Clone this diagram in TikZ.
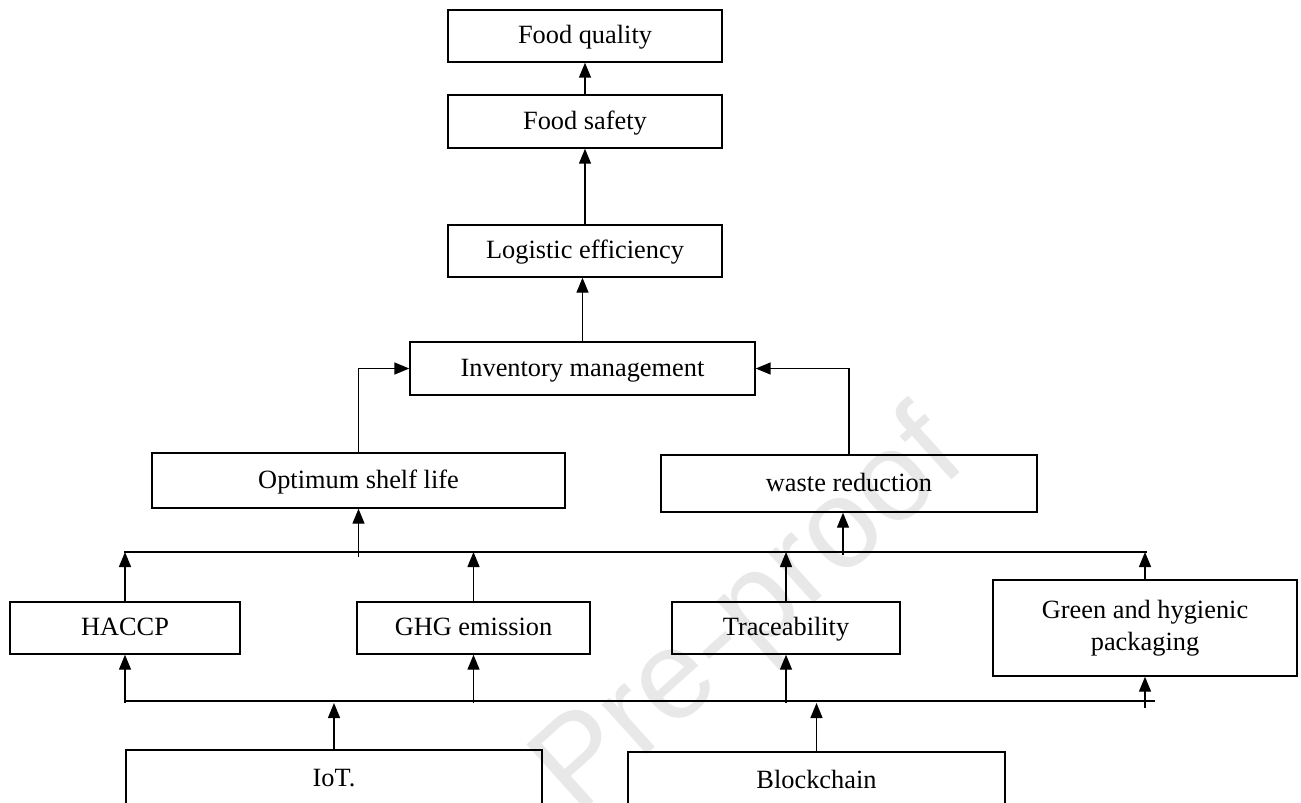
\documentclass[tikz,border=0pt]{standalone}
\usepackage{fontspec}
\setmainfont{Liberation Serif}
\newfontfamily\wmfont{Liberation Sans}
\usepackage{tikz}
\usetikzlibrary{arrows.meta}

\begin{document}
\begin{tikzpicture}[x=0.02cm, y=-0.02cm,
    box/.style={draw, line width=0.8pt, inner sep=2pt, align=center,
        font=\fontsize{15}{18}\selectfont},
    cell/.style={box, text height=1.1em, text depth=0.24em},
    up/.style={-{Triangle[width=0.24cm,length=0.3cm]}, line width=0.8pt}]
\clip (0,0) rectangle (1301,802);
% Watermark
\node[rotate=42, text=black!9, font=\wmfont\fontsize{72}{72}\selectfont] (wmark) at (752,616) {Pre-proof};
% Chain at the top
\node[cell, minimum width=5.48cm, minimum height=1.04cm] (quality) at (585,36) {Food quality};
\node[cell, minimum width=5.48cm, minimum height=1.06cm] (safety) at (585,121.5) {Food safety};
\node[cell, minimum width=5.48cm, minimum height=1.04cm] (logistic) at (585,251) {Logistic efficiency};
\node[cell, minimum width=6.9cm, minimum height=1.06cm] (inventory) at (582.5,368.5) {Inventory management};
\node[cell, minimum width=8.26cm, minimum height=1.1cm] (shelf) at (358.5,480.5) {Optimum shelf life};
\node[cell, minimum width=7.52cm, minimum height=1.14cm] (waste) at (849,483.5) {waste reduction};
% Middle row
\node[cell, minimum width=4.6cm, minimum height=1.04cm] (haccp) at (125,628) {HACCP};
\node[cell, minimum width=4.66cm, minimum height=1.04cm] (ghg) at (473.5,628) {GHG emission};
\node[cell, minimum width=4.56cm, minimum height=1.04cm] (trace) at (786,628) {Traceability};
\node[box, minimum width=6.08cm, minimum height=1.92cm] (green) at (1145,628) {Green and hygienic\\packaging};
% Technologies (cut at the bottom)
\node[cell, minimum width=8.32cm, minimum height=1.16cm] (iot) at (334,779) {IoT.};
\node[cell, minimum width=7.54cm, minimum height=1.16cm] (block) at (816.5,781) {Blockchain};
% Bus lines
\coordinate (busA) at (124,552);
\coordinate (busB) at (1147,552);
\coordinate (busC) at (124,701);
\coordinate (busD) at (1155,701);
\draw[line width=0.8pt] (busA) -- (busB);
\draw[line width=0.8pt] (busC) -- (busD);
% Arrows
\draw[up] (safety) -- (quality);
\draw[up] (logistic) -- (safety);
\draw[up] (inventory.north) -- (inventory.north |- logistic.south);
\draw[up] (shelf.north) |- (inventory.west);
\draw[up] (waste.north) |- (inventory.east);
\draw[up] ([yshift=-0.1cm]shelf.south |- busA) -- (shelf.south);
\coordinate (wasteIn) at ([xshift=-0.12cm]waste.south);
\draw[up] ([yshift=-0.06cm]wasteIn |- busA) -- (wasteIn);
\foreach \n in {haccp,ghg,trace,green}
    \draw[up] (\n.north) -- (\n.north |- busA);
\foreach \n in {haccp,ghg,trace}
    \draw[up] ([yshift=-0.04cm]\n.south |- busC) -- (\n.south);
\draw[up] ([yshift=-0.14cm]green.south |- busC) -- (green.south);
\foreach \n in {iot,block}
    \draw[up] (\n.north) -- ([yshift=-0.04cm]\n.north |- busC);
\end{tikzpicture}
\end{document}
